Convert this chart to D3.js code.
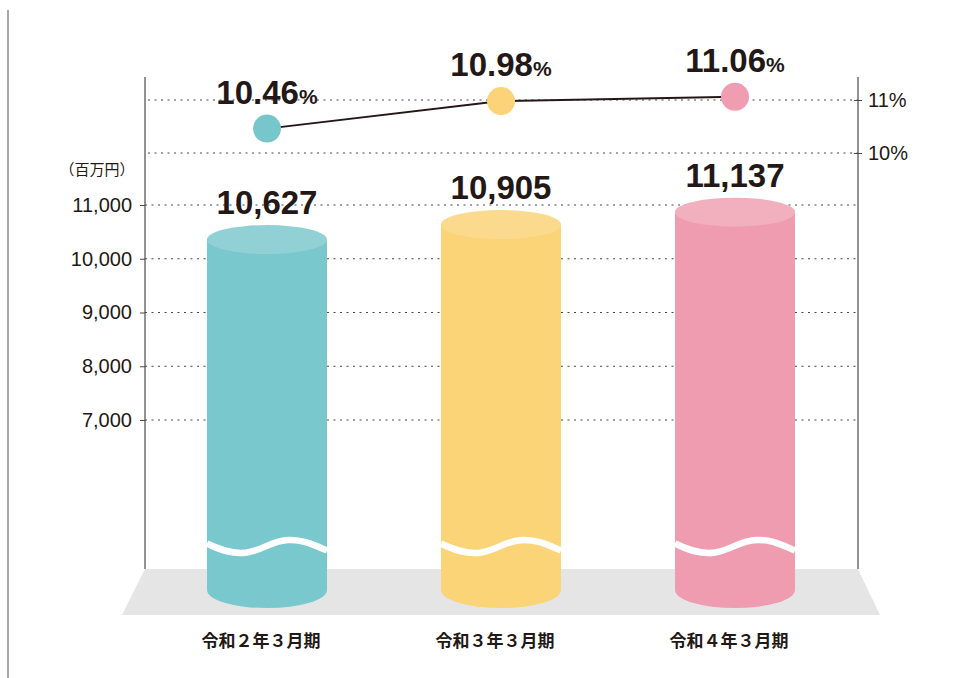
<!DOCTYPE html>
<html>
<head>
<meta charset="utf-8">
<script src="https://cdn.jsdelivr.net/npm/d3@7"></script>
<style>
  body { margin: 0; background: #fff; }
  svg { display: block; }
</style>
</head>
<body>
<div id="chart"></div>
<script>
// data
const categories = ['令和２年３月期', '令和３年３月期', '令和４年３月期'];
const sales = [10627, 10905, 11137];          // 百万円
const ratios = [10.46, 10.98, 11.06];         // %
const leftTicks = [7000, 8000, 9000, 10000, 11000];
const rightTicks = [10, 11];

const bodyColors = ['#78c8ce', '#fbd477', '#f09cb0'];
const topColors = ['#91d1d6', '#fcda8d', '#f2afbd'];
const dotColors = ['#76c6cc', '#fcd378', '#f09cb1'];

const W = 955, H = 678;
const ink = '#231815';
const numFont = '"Liberation Sans", Arial, Helvetica, sans-serif';
const jpFont = '"Noto Sans CJK JP", "Noto Sans", sans-serif';

const svg = d3.select('#chart').append('svg')
    .attr('width', W)
    .attr('height', H);

// plot frame
const axL = 145, axR = 858, axTop = 77, axBottom = 569;
const barBase = 590;  // bottom of cylinder body
const barW = 120;

const x = d3.scalePoint().domain(categories).range([267, 735]);
const yLeft = d3.scaleLinear().domain([7000, 11000]).range([420, 205]);
const yRight = d3.scaleLinear().domain([10, 11]).range([153, 100]);

// outer left rule
svg.append('line')
    .attr('x1', 8).attr('x2', 8).attr('y1', 10).attr('y2', H)
    .attr('stroke', '#555').attr('stroke-width', 1);

// floor
svg.append('path')
    .attr('d', `M${axL},${axBottom}L${axR},${axBottom}L880,615L122,615Z`)
    .attr('fill', '#e5e5e5');

// gridlines
svg.append('g').selectAll('line')
    .data(leftTicks)
    .join('line')
    .attr('x1', axL).attr('x2', axR)
    .attr('y1', d => yLeft(d)).attr('y2', d => yLeft(d))
    .attr('stroke', '#444').attr('stroke-width', 1)
    .attr('stroke-dasharray', '2,4.5');

svg.append('g').selectAll('line')
    .data(rightTicks)
    .join('line')
    .attr('x1', axL + 3).attr('x2', axR)
    .attr('y1', d => yRight(d)).attr('y2', d => yRight(d))
    .attr('stroke', '#444').attr('stroke-width', 1)
    .attr('stroke-dasharray', '2,4.5');

// vertical axis lines
[axL, axR].forEach(xx => {
  svg.append('line')
      .attr('x1', xx).attr('x2', xx).attr('y1', axTop).attr('y2', axBottom)
      .attr('stroke', '#4a4a4a').attr('stroke-width', 1.2);
});

// left axis
const gl = svg.append('g')
    .attr('transform', `translate(${axL},0)`)
    .call(d3.axisLeft(yLeft).tickValues(leftTicks).tickFormat(d3.format(','))
      .tickSizeInner(5).tickSizeOuter(0).tickPadding(8));
gl.select('.domain').remove();
gl.selectAll('.tick line').attr('stroke', '#4a4a4a');
gl.selectAll('.tick text')
    .attr('font-family', numFont).attr('font-size', 20)
    .attr('fill', ink);

// right axis
const gr = svg.append('g')
    .attr('transform', `translate(${axR},0)`)
    .call(d3.axisRight(yRight).tickValues(rightTicks).tickFormat(d => d + '%')
      .tickSizeInner(4).tickSizeOuter(0).tickPadding(6));
gr.select('.domain').remove();
gr.selectAll('.tick line').attr('x1', -4).attr('stroke', '#4a4a4a');
gr.selectAll('.tick text')
    .attr('font-family', numFont).attr('font-size', 20)
    .attr('fill', ink);

// unit label
svg.append('text')
    .attr('x', 97).attr('y', 175)
    .attr('text-anchor', 'middle')
    .attr('font-family', jpFont).attr('font-size', 15)
    .attr('fill', ink)
    .text('（百万円）');

// cylinders
const topRy = 14.5, botRy = 18;
const bars = svg.append('g').selectAll('g')
    .data(sales)
    .join('g');

bars.append('ellipse')
    .attr('cx', (d, i) => x(categories[i]))
    .attr('cy', barBase)
    .attr('rx', barW / 2).attr('ry', botRy)
    .attr('fill', (d, i) => bodyColors[i]);

bars.append('rect')
    .attr('x', (d, i) => x(categories[i]) - barW / 2)
    .attr('y', d => yLeft(d) + topRy)
    .attr('width', barW)
    .attr('height', d => barBase - yLeft(d) - topRy)
    .attr('fill', (d, i) => bodyColors[i]);

bars.append('ellipse')
    .attr('cx', (d, i) => x(categories[i]))
    .attr('cy', d => yLeft(d) + topRy)
    .attr('rx', barW / 2).attr('ry', topRy)
    .attr('fill', (d, i) => topColors[i]);

// break wave across each cylinder
function wave(cx) {
  const p = d3.path();
  const x0 = cx - barW / 2, yc = 546.5;
  p.moveTo(x0, yc - 3);
  p.bezierCurveTo(x0 + 14, yc + 4, x0 + 26, yc + 8, x0 + 40, yc + 6);
  p.bezierCurveTo(x0 + 58, yc + 3, x0 + 64, yc - 6, x0 + 82, yc - 6.5);
  p.bezierCurveTo(x0 + 98, yc - 7, x0 + 110, yc, x0 + barW, yc + 4);
  return p.toString();
}
bars.append('path')
    .attr('d', (d, i) => wave(x(categories[i])))
    .attr('fill', 'none')
    .attr('stroke', '#fff').attr('stroke-width', 6.5);

// value labels
svg.append('g').selectAll('text')
    .data(sales)
    .join('text')
    .attr('x', (d, i) => x(categories[i]))
    .attr('y', d => yLeft(d) - 11)
    .attr('text-anchor', 'middle')
    .attr('font-family', numFont).attr('font-weight', 700)
    .attr('font-size', 33).attr('fill', ink)
    .text(d => d3.format(',')(d));

// ratio line
const line = d3.line()
    .x((d, i) => x(categories[i]))
    .y(d => yRight(d));

svg.append('path')
    .datum(ratios)
    .attr('d', line)
    .attr('fill', 'none')
    .attr('stroke', ink).attr('stroke-width', 2);

svg.append('g').selectAll('circle')
    .data(ratios)
    .join('circle')
    .attr('cx', (d, i) => x(categories[i]))
    .attr('cy', d => yRight(d))
    .attr('r', 14)
    .attr('fill', (d, i) => dotColors[i]);

const pct = svg.append('g').selectAll('text')
    .data(ratios)
    .join('text')
    .attr('x', (d, i) => x(categories[i]))
    .attr('y', d => yRight(d) - 25)
    .attr('text-anchor', 'middle')
    .attr('font-family', numFont).attr('font-weight', 700)
    .attr('fill', ink);
pct.append('tspan').attr('font-size', 33).text(d => d.toFixed(2));
pct.append('tspan').attr('font-size', 21).text('%');

// category labels
svg.append('g').selectAll('text')
    .data(categories)
    .join('text')
    .attr('x', d => x(d) - 6)
    .attr('y', 647)
    .attr('text-anchor', 'middle')
    .attr('font-family', jpFont).attr('font-weight', 700)
    .attr('font-size', 17).attr('fill', ink)
    .text(d => d);
</script>
</body>
</html>
